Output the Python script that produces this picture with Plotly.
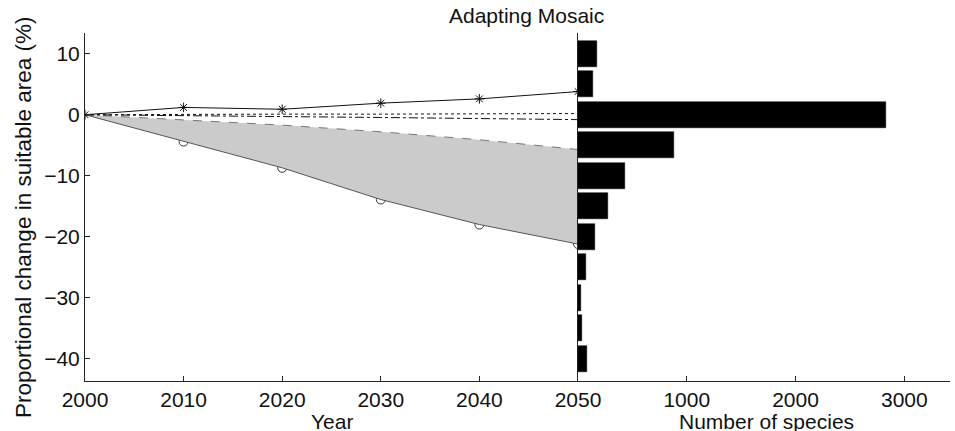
import plotly.graph_objects as go

# Projection years and change in suitable area (%)
years = [2000, 2010, 2020, 2030, 2040, 2050]
upper_change = [0, 1.2, 0.9, 1.9, 2.6, 3.8]          # solid line with stars
dotted_change = [0, 0.1, 0.1, 0.1, 0.2, 0.2]         # dotted line
dashdot_change = [0, -0.2, -0.3, -0.45, -0.6, -0.8]  # dash-dot line
band_top = [0, -0.8, -1.7, -2.8, -4.1, -5.7]         # top of shaded band
band_bottom = [0, -4.4, -8.7, -13.9, -18.0, -21.2]   # bottom of shaded band (circles)

# Histogram of species by change class
change_bins = [10, 5, 0, -5, -10, -15, -20, -25, -30, -35, -40]
species_counts = [176, 136, 2827, 885, 430, 277, 154, 78, 32, 41, 87]

year_ticks = [2000, 2010, 2020, 2030, 2040, 2050]
pct_ticks = [10, 0, -10, -20, -30, -40]
count_ticks = [1000, 2000, 3000]

W, H = 955, 431
FONT = "Liberation Sans, Arial, sans-serif"

def px_x(p):
    return p / W

def px_y(p):
    return 1 - p / H

yr = [-43.65, 13.4]

fig = go.Figure()

# circles sit under the shaded band
fig.add_trace(go.Scatter(x=years[1:], y=band_bottom[1:], mode="markers",
                         marker=dict(symbol="circle-open", size=9, color="#333",
                                     line=dict(color="#333", width=1)),
                         xaxis="x", yaxis="y", showlegend=False))
fig.add_trace(go.Scatter(x=years, y=band_top, mode="lines",
                         line=dict(color="#777", width=1, dash="dash"),
                         xaxis="x", yaxis="y", showlegend=False))
fig.add_trace(go.Scatter(x=years, y=band_bottom, mode="lines",
                         line=dict(color="#555", width=1),
                         fill="tonexty", fillcolor="#cbcbcb",
                         xaxis="x", yaxis="y", showlegend=False))
fig.add_trace(go.Scatter(x=years, y=dotted_change, mode="lines",
                         line=dict(color="#111", width=1, dash="dot"),
                         xaxis="x", yaxis="y", showlegend=False))
fig.add_trace(go.Scatter(x=years, y=dashdot_change, mode="lines",
                         line=dict(color="#111", width=1, dash="dashdot"),
                         xaxis="x", yaxis="y", showlegend=False))
fig.add_trace(go.Scatter(x=years, y=upper_change, mode="lines+markers",
                         line=dict(color="#111", width=1),
                         marker=dict(symbol="asterisk-open", size=8, color="#111",
                                     line=dict(color="#111", width=1)),
                         xaxis="x", yaxis="y", showlegend=False))

fig.add_trace(go.Bar(x=species_counts, y=change_bins, orientation="h",
                     width=4.2, marker=dict(color="black",
                                            line=dict(color="black", width=0.5)),
                     xaxis="x2", yaxis="y2", showlegend=False))

axis_common = dict(showgrid=False, zeroline=False, showline=True,
                   linecolor="#222", linewidth=1, ticks="inside",
                   ticklen=5, tickcolor="#222", automargin=False,
                   tickfont=dict(family=FONT, size=21, color="#111"))

fig.update_layout(
    width=W, height=H, autosize=False,
    margin=dict(l=0, r=0, t=0, b=0, pad=0),
    paper_bgcolor="white", plot_bgcolor="white",
    xaxis=dict(domain=[px_x(85), px_x(578)], range=[2000, 2050],
               tickvals=year_ticks, anchor="y", **axis_common),
    yaxis=dict(domain=[px_y(381), px_y(33)], range=yr,
               tickvals=pct_ticks, anchor="x", **axis_common),
    xaxis2=dict(domain=[px_x(578), px_x(950)], range=[0, 3420],
                tickvals=count_ticks, anchor="y2", **axis_common),
    yaxis2=dict(domain=[px_y(381), px_y(33)], range=yr, anchor="x2",
                showticklabels=False, showgrid=False, zeroline=False,
                automargin=False,
                showline=True, linecolor="#222", linewidth=1, ticks=""),
    bargap=0,
)

text_font = dict(family=FONT, size=21, color="#111")
fig.add_annotation(text="Adapting Mosaic", x=px_x(526), y=px_y(15),
                   xref="paper", yref="paper", showarrow=False,
                   xanchor="center", yanchor="middle", font=text_font)
fig.add_annotation(text="Year", x=px_x(332), y=px_y(421), height=20,
                   xref="paper", yref="paper", showarrow=False,
                   xanchor="center", yanchor="middle", font=text_font)
fig.add_annotation(text="Number of species", x=px_x(766), y=px_y(421), height=20,
                   xref="paper", yref="paper", showarrow=False,
                   xanchor="center", yanchor="middle", font=text_font)
fig.add_annotation(text="Proportional change in suitable area (%)",
                   x=px_x(23), y=px_y(218), textangle=-90,
                   xref="paper", yref="paper", showarrow=False,
                   xanchor="center", yanchor="middle",
                   font=dict(family=FONT, size=22.5, color="#111"))

fig.write_html("out.html")
